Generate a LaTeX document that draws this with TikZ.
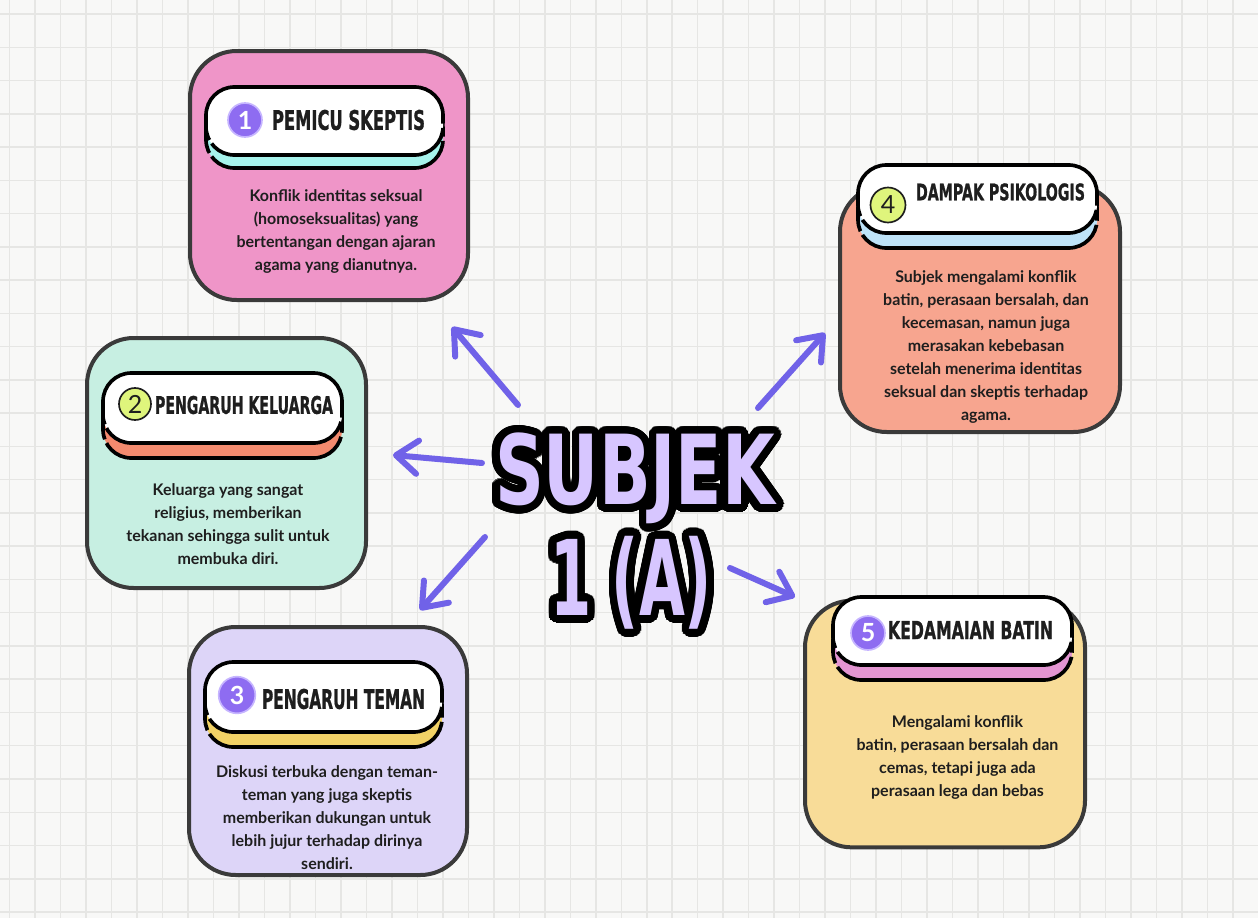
\documentclass[tikz,border=0pt]{standalone}
\usepackage{fontspec}
\usepackage{graphicx}
\usepackage{contour}
\setmainfont{Lato}
\newfontfamily\blockfont{DejaVu Sans}
\newfontfamily\headfont[FakeBold=1.2]{DejaVu Sans}
\usetikzlibrary{arrows.meta}
\contourlength{4.6pt}
\contournumber{48}

\definecolor{paper}{HTML}{F8F8F7}
\definecolor{gridgray}{HTML}{E6E6E4}
\definecolor{cardline}{HTML}{3A3A3A}
\definecolor{inkdark}{HTML}{1E1E1E}
\definecolor{cardpink}{HTML}{EF95C8}
\definecolor{cardsalmon}{HTML}{F7A58F}
\definecolor{cardmint}{HTML}{C7EFE2}
\definecolor{cardlilac}{HTML}{DDD5F8}
\definecolor{cardsand}{HTML}{F8DC98}
\definecolor{shadecyan}{HTML}{A6F3EC}
\definecolor{shadeblue}{HTML}{BEE3F8}
\definecolor{shadecoral}{HTML}{F38A6E}
\definecolor{shadegold}{HTML}{F2D266}
\definecolor{shadeorchid}{HTML}{E395D2}
\definecolor{dotpurple}{HTML}{8E6CF1}
\definecolor{dotrim}{HTML}{C6B5FF}
\definecolor{dotlime}{HTML}{DFF57C}
\definecolor{arrowpurple}{HTML}{7062E8}
\definecolor{titlefill}{HTML}{D7C6FF}

\tikzstyle{gridline}=[draw=gridgray, line width=0.9pt]
\tikzstyle{card}=[draw=cardline, line width=2.4pt, rounded corners=28pt]
\tikzstyle{pill}=[draw=black, line width=2.2pt, rounded corners=17pt, dash pattern=on 150pt off 2.5pt]
\tikzstyle{purpledot}=[circle, fill=dotpurple, draw=dotrim, line width=1pt, inner sep=0pt, text=white, font=\bfseries\fontsize{15}{15}\selectfont]
\tikzstyle{limedot}=[circle, fill=dotlime, draw=inkdark, line width=1pt, inner sep=0pt, text=inkdark, font=\fontsize{15}{15}\selectfont]
\tikzstyle{heading}=[inner sep=0pt, text=inkdark]
\tikzstyle{body}=[align=center, inner sep=0pt, text=inkdark, font=\bfseries\fontsize{9.6}{13.8}\selectfont]
\tikzstyle{bigtitle}=[inner sep=0pt, text=titlefill, font=\blockfont\bfseries\fontsize{58}{58}\selectfont]
\tikzstyle{pointer}=[draw=arrowpurple, line width=3.6pt, line cap=round, -{Straight Barb[length=13pt, width=20pt, round]}]

\newcommand{\hdr}[3]{\resizebox{#1}{#2}{\headfont\bfseries #3}}

\begin{document}
\begin{tikzpicture}[x=0.6pt, y=-0.6pt]
  \useasboundingbox (0,0) rectangle (1258,918);
  \fill[paper] (0,0) rectangle (1258,918);
  \foreach \i in {0,...,49}
    \draw[gridline] ({9.5+25.49*\i},0) -- ({9.5+25.49*\i},918);
  \foreach \j in {0,...,27}
    \draw[gridline] (0,{14+33.26*\j}) -- (1258,{14+33.26*\j});

  % cards
  \node[card, fill=cardpink, minimum width=166.8pt, minimum height=149.4pt] (card1) at (329,175.5) {};
  \node[card, fill=cardmint, minimum width=167.4pt, minimum height=150pt] (card2) at (226.5,463) {};
  \node[card, fill=cardlilac, minimum width=166.8pt, minimum height=148.8pt] (card3) at (328,751) {};
  \node[card, fill=cardsalmon, minimum width=168pt, minimum height=148.2pt] (card4) at (980,308.5) {};
  \node[card, fill=cardsand, minimum width=168pt, minimum height=148pt] (card5) at (945,724) {};

  % headers
  \node[pill, fill=shadecyan, minimum width=142.2pt, minimum height=40.8pt] (shade1) at (324.5,134) {};
  \node[pill, fill=white, minimum width=142.2pt, minimum height=40.8pt] (pill1) at (324.5,121) {};
  \node[purpledot, minimum size=20.4pt] (dot1) at (245,120) {1};
  \node[heading] (head1) at (348.5,120) {\hdr{91.8pt}{12pt}{PEMICU SKEPTIS}};

  \node[pill, fill=shadecoral, minimum width=143.4pt, minimum height=42pt] (shade2) at (222.5,423) {};
  \node[pill, fill=white, minimum width=143.4pt, minimum height=42pt] (pill2) at (222.5,408) {};
  \node[limedot, minimum size=19.2pt] (dot2) at (135,404) {2};
  \node[heading] (head2) at (244,405) {\hdr{106.8pt}{10.8pt}{PENGARUH KELUARGA}};

  \node[pill, fill=shadegold, minimum width=142.2pt, minimum height=42pt] (shade3) at (323.5,712) {};
  \node[pill, fill=white, minimum width=142.2pt, minimum height=42pt] (pill3) at (323.5,697) {};
  \node[purpledot, minimum size=22pt] (dot3) at (237,695) {3};
  \node[heading] (head3) at (343.5,699) {\hdr{97.8pt}{12pt}{PENGARUH TEMAN}};

  \node[pill, fill=shadeblue, minimum width=143.4pt, minimum height=40.8pt] (shade4) at (977.5,214) {};
  \node[pill, fill=white, minimum width=143.4pt, minimum height=40.8pt] (pill4) at (977.5,199) {};
  \node[limedot, minimum size=21pt] (dot4) at (888,205) {4};
  \node[heading] (head4) at (1000.5,192) {\hdr{101.4pt}{10.2pt}{DAMPAK PSIKOLOGIS}};

  \node[pill, fill=shadeorchid, minimum width=143.4pt, minimum height=40.8pt] (shade5) at (952.5,646) {};
  \node[pill, fill=white, minimum width=143.4pt, minimum height=40.8pt] (pill5) at (952.5,631) {};
  \node[purpledot, minimum size=20.4pt] (dot5) at (868,633) {5};
  \node[heading] (head5) at (970.5,630) {\hdr{99pt}{10.8pt}{KEDAMAIAN BATIN}};

  % texts
  \node[body] (text1) at (336,231) {Konflik identitas seksual\\(homoseksualitas) yang\\bertentangan dengan ajaran\\agama yang dianutnya.};
  \node[body] (text2) at (228,524) {Keluarga yang sangat\\religius, memberikan\\tekanan sehingga sulit untuk\\membuka diri.};
  \node[body] (text3) at (327,818) {Diskusi terbuka dengan teman-\\teman yang juga skeptis\\memberikan dukungan untuk\\lebih jujur terhadap dirinya\\sendiri.};
  \node[body] (text4) at (986,347) {Subjek mengalami konflik\\batin, perasaan bersalah, dan\\kecemasan, namun juga\\merasakan kebebasan\\setelah menerima identitas\\seksual dan skeptis terhadap\\agama.};
  \node[body] (text5) at (957.5,757) {Mengalami konflik\\batin, perasaan bersalah dan\\cemas, tetapi juga ada\\perasaan lega dan bebas};

  % centre
  \node[bigtitle] (subj) at (635,482.5) {\contour{black}{\resizebox{168pt}{43pt}{SUBJEK}}};
  \node[bigtitle] (subjnum) at (631,586.5) {\contour{black}{\resizebox*{97.2pt}{55.8pt}{1 (A)}}};

  \coordinate (tail1) at (518,405);
  \coordinate (tip1) at (452,327);
  \coordinate (tail2) at (482,463);
  \coordinate (tip2) at (393,455);
  \coordinate (tail3) at (485,537);
  \coordinate (tip3) at (420,610);
  \coordinate (tail4) at (758,408);
  \coordinate (tip4) at (825,333);
  \coordinate (tail5) at (730,568);
  \coordinate (tip5) at (795,597);
  \foreach \k in {1,...,5}
    \draw[pointer] (tail\k) -- (tip\k);
\end{tikzpicture}
\end{document}
